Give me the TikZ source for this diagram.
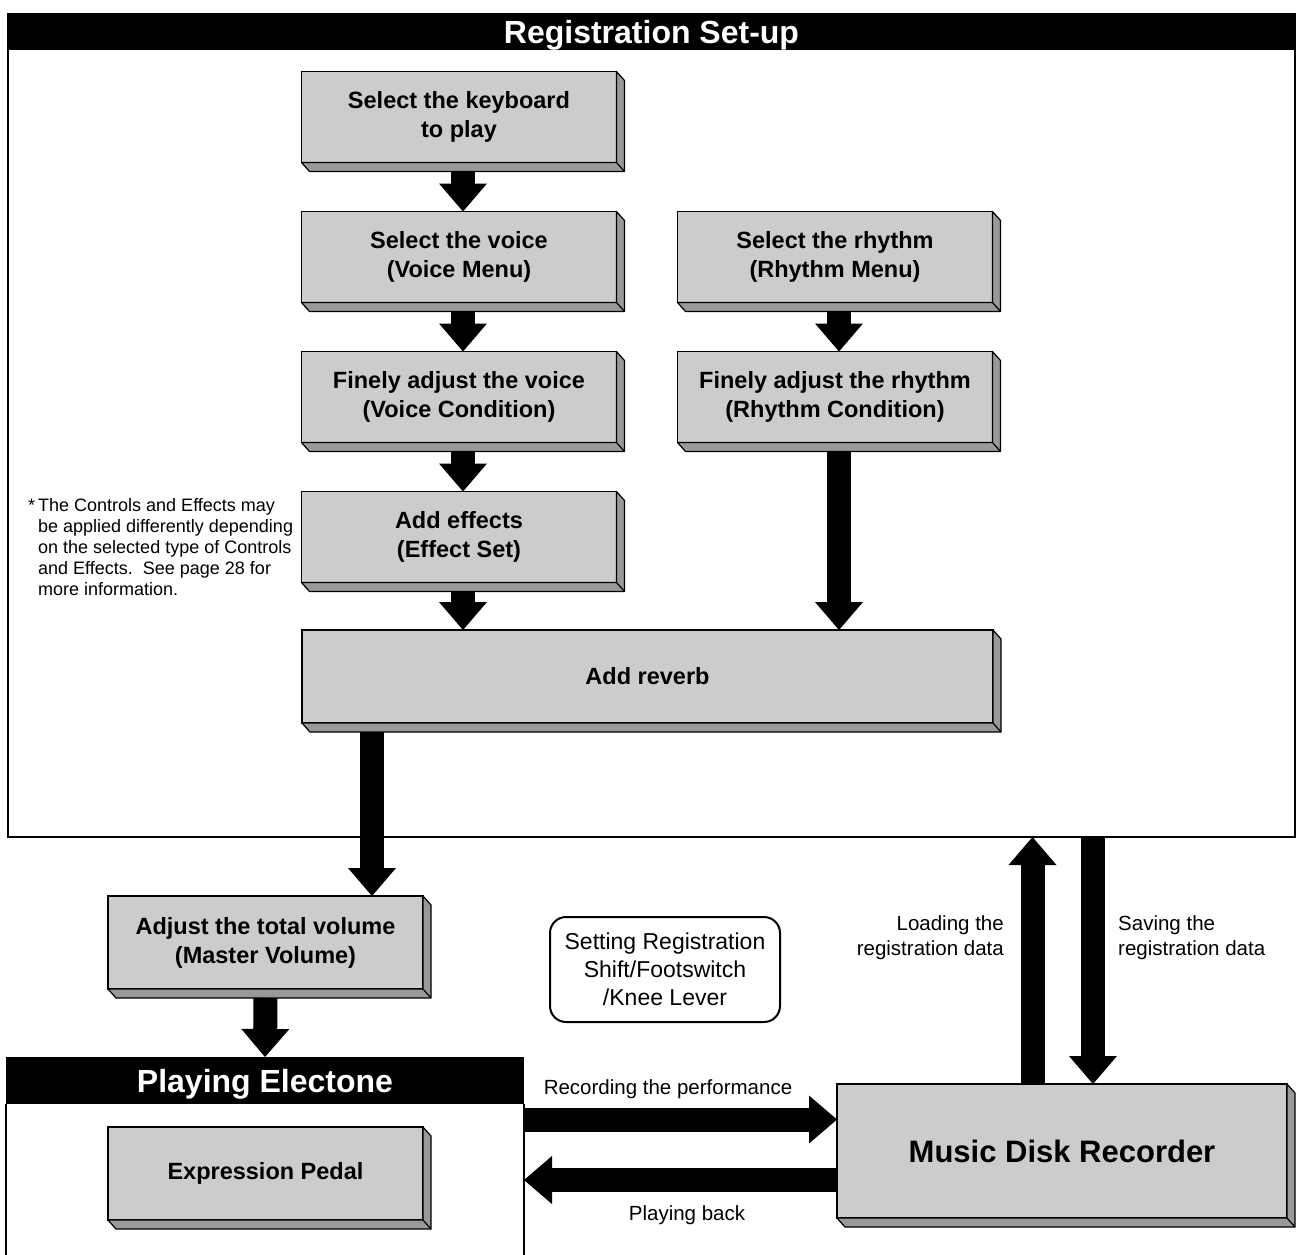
\documentclass[tikz,border=0pt]{standalone}
\usepackage{fontspec}
\setmainfont{Liberation Sans}
\usetikzlibrary{arrows.meta}
\tikzstyle{rFrame} = [rectangle, draw=black, line width=2pt, inner sep=0pt, outer sep=0pt]
\tikzstyle{rHead} = [rectangle, fill=black, text=white, font=\fontsize{32}{36}\selectfont\bfseries, text height=23pt, text depth=0pt, inner sep=0pt, outer sep=0pt]
\tikzstyle{rBox} = [rectangle, draw=black, line width=1.2pt, fill=gray!40, minimum width=315pt, minimum height=91pt, text centered, align=center, font=\fontsize{23.5}{29}\selectfont\bfseries, inner sep=0pt, outer sep=0pt]
\tikzstyle{rSide} = [draw=black, line width=1.2pt, fill=gray!80, line join=round]
\tikzstyle{rRound} = [rectangle, rounded corners=16pt, draw=black, line width=2pt, minimum width=230pt, minimum height=105pt, align=center, font=\fontsize{23}{28}\selectfont, inner sep=0pt, outer sep=0pt]
\tikzstyle{rLabel} = [font=\fontsize{20.5}{25}\selectfont, align=center, inner sep=0pt]
\tikzstyle{rArrow} = [line width=24pt, -{Triangle[width=48pt, length=28pt, line width=0pt 0 0]}]
\newcommand{\sideFaces}[1]{%
  \filldraw [rSide] (#1.north east) -- ++(8,-9) -- ([shift={(8,-9)}]#1.south east) -- ([shift={(8,-9)}]#1.south west) -- (#1.south west) -- (#1.south east) -- cycle;
  \draw [rSide] (#1.south east) -- ++(8,-9);}

\begin{document}
\begin{tikzpicture}[x=1pt, y=1pt, node distance=140pt]
    \useasboundingbox (0,0) rectangle (1298,-1254);
    \node (regframe) [rFrame, minimum width=1287pt, minimum height=823pt] at (651.5,-425.5) {};
    \node (reghead) [rHead, minimum width=1287pt, minimum height=36pt, anchor=north] at (regframe.north) {Registration Set-up};

    \node (keyb) [rBox] at (459,-117) {Select the keyboard\\to play};
    \node (voice) [rBox, below of=keyb] {Select the voice\\(Voice Menu)};
    \node (voicecond) [rBox, below of=voice] {Finely adjust the voice\\(Voice Condition)};
    \node (effects) [rBox, below of=voicecond] {Add effects\\(Effect Set)};
    \node (rhythm) [rBox, right of=voice, xshift=236pt] {Select the rhythm\\(Rhythm Menu)};
    \node (rhythmcond) [rBox, below of=rhythm] {Finely adjust the rhythm\\(Rhythm Condition)};
    \node (reverb) [rBox, minimum width=691pt, minimum height=93pt] at (647.5,-676.5) {Add reverb};
    \node (note) [anchor=north west, align=left, inner sep=0pt, font=\fontsize{18}{21}\selectfont] at (38,-498) {\llap{*\,}The Controls and Effects may\\be applied differently depending\\on the selected type of Controls\\and Effects.\ \ See page 28 for\\more information.};

    \node (master) [rBox, minimum height=93pt] at (265.5,-942.5) {Adjust the total volume\\(Master Volume)};
    \node (setreg) [rRound] at (665,-969.5) {Setting Registration\\Shift/Footswitch\\/Knee Lever};
    \node (playhead) [rHead, minimum width=518pt, minimum height=47pt] at (265,-1080.5) {Playing Electone};
    \draw [line width=2.5pt] (playhead.south west) -- ++(0,-180);
    \draw [line width=2.5pt] (playhead.south east) -- ++(0,-180);
    \node (pedal) [rBox, minimum height=93pt, below of=master, yshift=-91pt] {Expression Pedal};
    \node (mdr) [rBox, minimum width=450pt, minimum height=134pt, font=\fontsize{31}{36}\selectfont\bfseries] at (1062,-1151) {Music Disk Recorder};

    \sideFaces{keyb}
    \sideFaces{voice}
    \sideFaces{voicecond}
    \sideFaces{effects}
    \sideFaces{rhythm}
    \sideFaces{rhythmcond}
    \sideFaces{reverb}
    \sideFaces{master}
    \sideFaces{pedal}
    \sideFaces{mdr}

    \node (reclabel) [rLabel] at (668,-1089) {Recording the performance};
    \node (backlabel) [rLabel] at (687,-1215) {Playing back};
    \node (loadlabel) [rLabel, align=right, anchor=east] at (1004,-937.5) {Loading the\\registration data};
    \node (savelabel) [rLabel, align=left, anchor=west] at (1118,-937.5) {Saving the\\registration data};

    \draw [rArrow] ([shift={(4,-9)}]keyb.south) -- ([xshift=4pt]voice.north);
    \draw [rArrow] ([shift={(4,-9)}]voice.south) -- ([xshift=4pt]voicecond.north);
    \draw [rArrow] ([shift={(4,-9)}]voicecond.south) -- ([xshift=4pt]effects.north);
    \draw [rArrow] ([shift={(4,-9)}]effects.south) -- ([xshift=-184.5pt]reverb.north);
    \draw [rArrow] ([shift={(4,-9)}]rhythm.south) -- ([xshift=4pt]rhythmcond.north);
    \draw [rArrow] ([shift={(4,-9)}]rhythmcond.south) -- ([xshift=191.5pt]reverb.north);
    \draw [rArrow] ([shift={(-275.5,-9)}]reverb.south) -- ([xshift=106.5pt]master.north);
    \draw [rArrow] ([yshift=-9pt]master.south) -- (playhead.north);
    \draw [rArrow] ([yshift=-39pt]playhead.east) -- ([yshift=31.5pt]mdr.west);
    \draw [rArrow] ([yshift=-29pt]mdr.west) -- ([yshift=-99.5pt]playhead.east);
    \draw [rArrow] ([xshift=-29.5pt]mdr.north) -- ([xshift=381pt]regframe.south);
    \draw [rArrow] ([xshift=441.5pt]regframe.south) -- ([xshift=31pt]mdr.north);
\end{tikzpicture}
\end{document}
